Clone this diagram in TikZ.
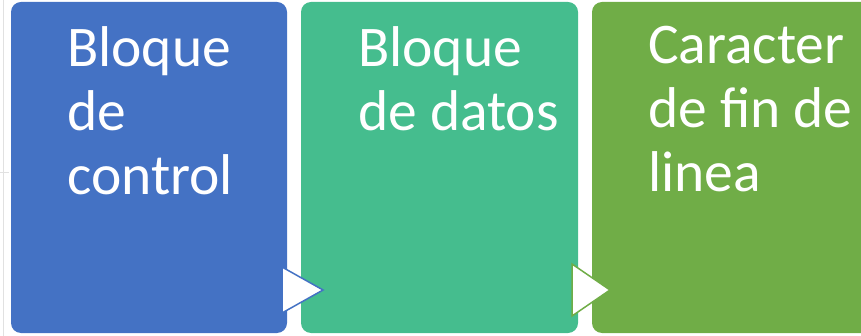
\documentclass[tikz,border=0pt]{standalone}
\usepackage{fontspec}
\setmainfont{Carlito}
\usepackage{tikz}
\usetikzlibrary{positioning}
\definecolor{controlblue}{RGB}{68, 114, 196}
\definecolor{datateal}{RGB}{69, 189, 142}
\definecolor{endgreen}{RGB}{112, 173, 71}
\definecolor{gridgray}{RGB}{225, 225, 225}
\tikzset{
 blockbox/.style={rounded corners=10pt, inner sep=0pt},
 blocktext/.style={white, anchor=north west, align=left, inner sep=0pt, font=\fontsize{57.5}{64}\selectfont},
 chevron/.style={fill=white, line width=1.5pt, line join=miter}
}

\begin{document}
\begin{tikzpicture}[x=1pt, y=-1pt]
 \useasboundingbox (0,0) rectangle (861,336);

 % Faint grid lines behind the blocks
 \draw[gridgray, line width=1.5pt] (3.5,0) -- (3.5,336);
 \draw[gridgray, line width=1pt] (0,173) -- (9,173);

 % Three coloured blocks
 \fill[blockbox, controlblue] (11,2) rectangle (287,333);
 \fill[blockbox, datateal] (301,2) rectangle (578,333);
 \fill[blockbox, endgreen] (592,2) rectangle (890,333);

 % Block texts
 \node[blocktext] (control) at (67,26) {Bloque\\de\\control};
 \node[blocktext] (datos) at (358,26) {Bloque\\de datos};
 \node[blocktext] (fin) at (648,26) {Caracter\\de fin de\\linea};

 % Chevrons between blocks
 \draw[chevron, draw=controlblue] (282,267) -- (323,290) -- (282,313) -- cycle;
 \draw[chevron, draw=endgreen] (572,264) -- (610,290) -- (572,316) -- cycle;
\end{tikzpicture}
\end{document}
